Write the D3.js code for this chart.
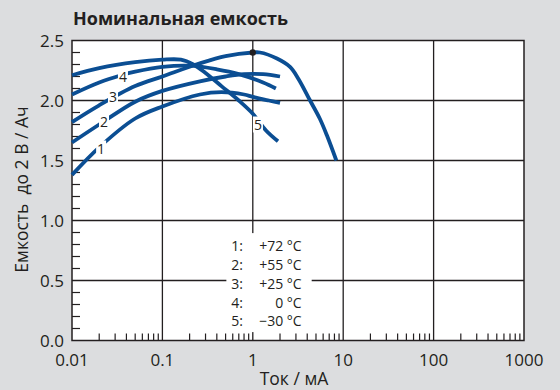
<!DOCTYPE html>
<html>
<head>
<meta charset="UTF-8">
<script src="https://d3js.org/d3.v7.min.js"></script>
<style>
  body { margin: 0; background: #dcdddf; }
  text { font-family: "Open Sans", "Noto Sans", sans-serif; fill: #231f20; }
</style>
</head>
<body>
<div id="chart"></div>
<script>

// current in mA, capacity to 2 V in Ah
var curve1 = [[0.01,1.38],[0.02,1.61],[0.05,1.85],[0.1,1.95],[0.26,2.05],[0.45,2.07],[0.8,2.05],[1,2.03],[1.5,2.0],[2,1.98]];
var curve2 = [[0.01,1.65],[0.02,1.80],[0.05,1.99],[0.1,2.08],[0.26,2.16],[0.5,2.2],[0.8,2.22],[1.3,2.22],[2,2.2]];
var curve3 = [[0.01,1.82],[0.02,1.96],[0.05,2.12],[0.1,2.2],[0.26,2.31],[0.5,2.37],[1,2.40],[1.2,2.40],[1.85,2.35],[2.58,2.28],[3.2,2.18],[4.3,2.0],[5.5,1.85],[6.6,1.71],[8.4,1.5]];
var curve4 = [[0.01,2.05],[0.02,2.15],[0.035,2.21],[0.05,2.24],[0.1,2.28],[0.2,2.29],[0.4,2.26],[0.7,2.22],[1.3,2.15],[1.8,2.10]];
var curve5 = [[0.01,2.21],[0.02,2.27],[0.05,2.32],[0.1,2.34],[0.16,2.34],[0.22,2.30],[0.3,2.23],[0.45,2.12],[0.7,2.0],[1,1.89],[1.4,1.75],[1.9,1.66]];
var curves = [curve1, curve2, curve3, curve4, curve5];

var curveLabels = ["1", "2", "3", "4", "5"];
var labelPos = [[0.021,1.60],[0.0226,1.82],[0.0284,2.03],[0.0366,2.2],[1.14,1.80]];
var peakPoint = [1, 2.40];

var legendNums = ["1:", "2:", "3:", "4:", "5:"];
var legendTemps = ["+72 °C", "+55 °C", "+25 °C", "0 °C", "−30 °C"];

var xTicks = [0.01, 0.1, 1, 10, 100, 1000];
var xTickLabels = ["0.01", "0.1", "1", "10", "100", "1000"];
var yTicks = [0, 0.5, 1.0, 1.5, 2.0, 2.5];

var W = 560, H = 390;
var margin = {top: 40.5, right: 36, bottom: 49.5, left: 72};
var width = W - margin.left - margin.right,
    height = H - margin.top - margin.bottom;

var svg = d3.select("#chart")
  .append("svg")
    .attr("width", W)
    .attr("height", H);

svg.append("rect").attr("width", W).attr("height", H).attr("fill", "#dcdddf");

var g = svg.append("g")
    .attr("transform", "translate(" + margin.left + "," + margin.top + ")");

var x = d3.scaleLog().domain([0.01, 1000]).range([0, width]);
var y = d3.scaleLinear().domain([0, 2.5]).range([height, 0]);

g.append("rect").attr("width", width).attr("height", height).attr("fill", "#fff");

// grid
g.selectAll(".vgrid").data(xTicks.slice(1, -1)).enter().append("line")
  .attr("x1", d => x(d)).attr("x2", d => x(d))
  .attr("y1", 0).attr("y2", height)
  .attr("stroke", "#231f20").attr("stroke-width", 1.3);
g.selectAll(".hgrid").data(yTicks.slice(1, -1)).enter().append("line")
  .attr("x1", 0).attr("x2", width)
  .attr("y1", d => y(d)).attr("y2", d => y(d))
  .attr("stroke", "#231f20").attr("stroke-width", 1.3);

// minor ticks
var xMinor = [];
[0.01, 0.1, 1, 10, 100].forEach(function(dec) {
  for (var k = 2; k <= 9; k++) xMinor.push(dec * k);
});
g.selectAll(".xminor").data(xMinor).enter().append("line")
  .attr("x1", d => x(d)).attr("x2", d => x(d))
  .attr("y1", height).attr("y2", height - 7)
  .attr("stroke", "#231f20").attr("stroke-width", 1.2);

var yMinor = d3.range(1, 25).filter(d => d % 5 != 0).map(d => d / 10);
g.selectAll(".yminor").data(yMinor).enter().append("line")
  .attr("x1", 0).attr("x2", 8)
  .attr("y1", d => y(d)).attr("y2", d => y(d))
  .attr("stroke", "#231f20").attr("stroke-width", 1.2);

// legend box (covers grid)
g.append("rect")
  .attr("x", x(0.51)).attr("y", y(0.895))
  .attr("width", x(4.48) - x(0.51)).attr("height", y(0.07) - y(0.895))
  .attr("fill", "#fff");

legendNums.forEach(function(n, i) {
  g.append("text").attr("x", x(0.78)).attr("y", y(0.742) + i * 18.75)
    .attr("text-anchor", "end").attr("font-size", 14).text(n);
  g.append("text").attr("x", x(3.47)).attr("y", y(0.742) + i * 18.75)
    .attr("text-anchor", "end").attr("font-size", 14).text(legendTemps[i]);
});

// frame
g.append("rect").attr("width", width).attr("height", height)
  .attr("fill", "none").attr("stroke", "#231f20").attr("stroke-width", 1.5);

// curves
var line = d3.line()
  .x(d => x(d[0]))
  .y(d => y(d[1]))
  .curve(d3.curveCatmullRom.alpha(0.5));

g.selectAll(".curve").data(curves).enter().append("path")
  .attr("d", line)
  .attr("fill", "none")
  .attr("stroke", "#0b4e93")
  .attr("stroke-width", 3.8);

g.append("circle")
  .attr("cx", x(peakPoint[0])).attr("cy", y(peakPoint[1]))
  .attr("r", 3.2).attr("fill", "#231f20");

// curve labels with gaps
labelPos.forEach(function(p, i) {
  g.append("rect")
    .attr("x", x(p[0]) - 5).attr("y", y(p[1]) - 8)
    .attr("width", 10).attr("height", 16)
    .attr("fill", "#fff");
  g.append("text")
    .attr("x", x(p[0])).attr("y", y(p[1]) + 5)
    .attr("text-anchor", "middle").attr("font-size", 14)
    .text(curveLabels[i]);
});

// tick labels
g.selectAll(".xl").data(xTicks).enter().append("text")
  .attr("x", d => x(d)).attr("y", height + 25)
  .attr("text-anchor", "middle").attr("font-size", 17)
  .text((d, i) => xTickLabels[i]);

g.selectAll(".yl").data(yTicks).enter().append("text")
  .attr("x", -8).attr("y", d => y(d) + 6)
  .attr("text-anchor", "end").attr("font-size", 17)
  .text(d => d.toFixed(1));

// titles
svg.append("text")
  .attr("x", margin.left + 1).attr("y", 25)
  .attr("font-size", 18).attr("font-weight", "bold")
  .text("Номинальная емкость");

svg.append("text")
  .attr("x", margin.left + width / 2 - 4).attr("y", 385)
  .attr("text-anchor", "middle").attr("font-size", 17.5)
  .text("Ток / мА");

svg.append("text")
  .attr("transform", "translate(28," + (margin.top + height / 2 - 1) + ") rotate(-90)")
  .attr("text-anchor", "middle").attr("font-size", 17.5)
  .attr("xml:space", "preserve")
  .text("Емкость  до 2 В / Ач");

</script>
</body>
</html>
